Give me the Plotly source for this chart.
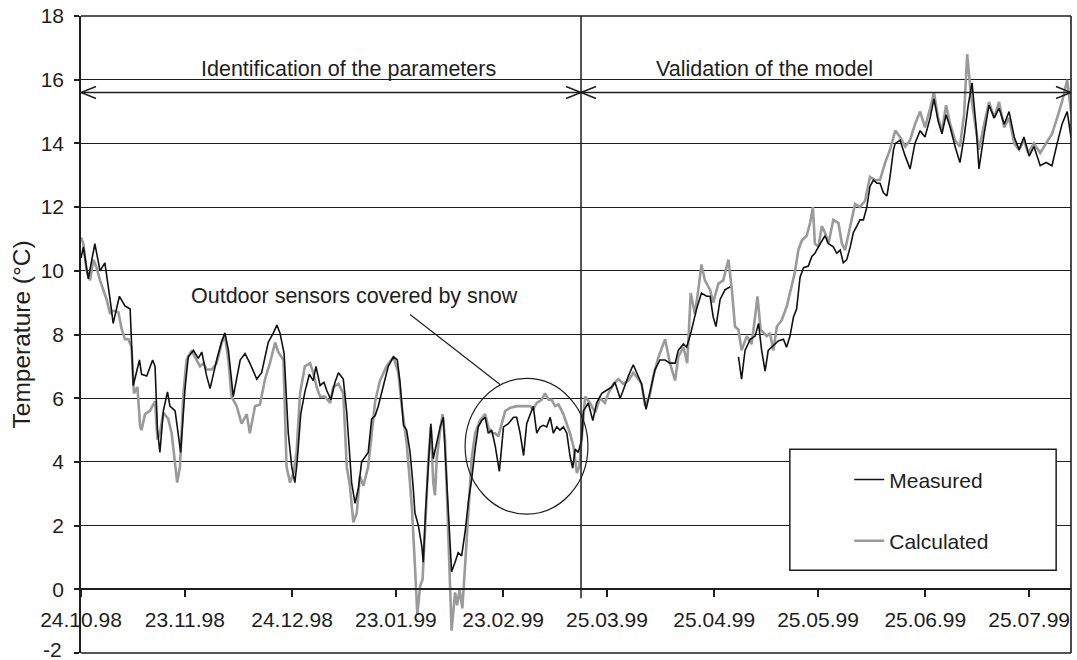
import datetime as dt
import plotly.graph_objects as go

START = dt.datetime(1998, 10, 24)

# ---- data (day offset from 24.10.98, temperature in °C) ----
meas_day = [0, 0.7, 2.1, 4.0, 5.5, 6.9, 8.4, 9.3, 11.1, 12.7, 14.2, 15.1, 16.9, 17.5, 19.0, 20.7, 21.4, 22.1,
            22.8, 23.8, 25.0, 25.7, 27.2, 28.1, 28.8, 30.1, 31.0, 32.5, 33.9, 34.9, 36.3, 37.3, 39.2, 40.7,
            41.6, 42.6, 44.0, 46.0, 47.4, 48.8, 50.8, 52.2, 54.1, 55.6, 56.6, 57.5, 58.7, 59.9, 60.9, 61.8,
            62.5, 63.5, 64.7, 66.0, 67.1, 67.9, 69.1, 70.2, 71.0, 72.2, 73.4, 74.4, 75.8, 76.8, 77.6, 78.2,
            79.2, 80.2, 81.1, 83.0, 84.0, 85.0, 85.9, 87.4, 88.8, 90.3, 91.4, 92.2, 93.2, 94.1, 95.1, 96.0,
            96.5, 97.0, 97.5, 98.5, 98.9, 99.6, 100.4, 101.1, 101.8, 102.8, 103.8, 104.7, 105.7, 106.7,
            107.1, 108.1, 109.0, 110.0, 111.0, 112.0, 112.9, 113.9, 114.8, 115.8, 116.8, 117.7, 118.7,
            119.7, 120.9, 122.1, 123.5, 125.0, 125.9, 126.9, 127.9, 128.8, 129.8, 130.7, 131.7, 132.7,
            133.6, 134.6, 135.6, 136.5, 137.5, 138.4, 139.4, 140.4, 141.3, 142.1, 142.8, 143.7, 144.7,
            145.2, 146.6, 147.9, 149.0, 150.5, 151.9, 153.4, 154.3, 155.8, 156.7, 158.2, 159.6, 161.1,
            162.0, 163.3, 164.5, 165.9, 167.3, 168.8, 170.2, 171.7, 172.6, 174.1, 175.0, 176.0, 176.9,
            177.9, 179.3, 180.8, 181.8, 182.7, 183.5, 184.7, 186.1, 187.6, 188.8, 190.0, 190.9, 191.9,
            193.4, 194.8, 195.8, 196.7, 197.7, 198.6, 199.6, 200.6, 201.5, 203.0, 203.9, 204.9, 205.9,
            206.8, 207.8, 208.8, 210.2, 211.2, 212.1, 213.1, 214.1, 215.0, 216.0, 217.4, 218.4, 219.4,
            220.3, 221.3, 222.3, 223.2, 224.2, 225.1, 226.1, 227.1, 228.0, 229.0, 230.0, 230.9, 231.9,
            232.9, 233.8, 234.8, 235.3, 236.7, 238.2, 239.6, 241.0, 242.5, 243.9, 245.4, 246.5, 247.7,
            248.8, 250.0, 251.2, 252.6, 254.0, 255.2, 256.4, 257.5, 258.7, 259.5, 261.0, 262.4, 263.9,
            265.3, 266.8, 268.2, 269.7, 271.1, 272.5, 274.0, 275.4, 277.2, 278.9, 280.6, 282.1, 283.5,
            285.0, 286.1]
measured = [10.4, 10.75, 9.75, 10.85, 10.0, 10.25, 9.1, 8.35, 9.2, 8.9, 8.8, 6.4, 7.2, 6.75, 6.7, 7.2, 7.0, 5.0,
            4.3, 5.6, 6.2, 5.75, 5.6, 4.9, 4.3, 6.35, 7.3, 7.5, 7.25, 7.45, 6.7, 6.3, 7.2, 7.8,
            8.05, 7.5, 6.05, 7.2, 7.4, 7.1, 6.6, 6.8, 7.75, 8.05, 8.3, 8.05, 7.4, 4.9, 3.85, 3.35,
            4.05, 5.5, 6.2, 6.75, 6.55, 7.0, 6.4, 6.5, 6.25, 5.95, 6.5, 6.8, 6.6, 5.55, 4.3, 3.35,
            2.7, 3.2, 4.0, 4.3, 5.35, 5.45, 5.75, 6.35, 7.0, 7.3, 7.2, 6.5, 5.15, 5.0, 4.3, 3.2,
            2.4, 2.2, 2.0, 1.35, 0.85, 2.5, 4.1, 5.2, 4.1, 4.6, 5.1, 5.4, 3.25, 1.35,
            0.55, 0.85, 1.15, 1.05, 1.8, 2.8, 3.45, 4.4, 5.1, 5.3, 5.4, 4.9, 5.0,
            4.5, 3.7, 5.1, 5.2, 5.4, 5.4, 4.9, 4.2, 5.2, 5.5, 5.75, 4.9, 5.1,
            5.15, 5.1, 5.4, 4.9, 5.1, 5.0, 5.1, 4.9, 4.2, 3.8, 4.4, 4.3, 4.7,
            5.6, 5.85, 5.3, 5.85, 6.15, 6.25, 6.35, 6.5, 6.0, 6.25, 6.7, 7.05, 6.7,
            6.45, 5.65, 6.25, 6.9, 7.2, 7.2, 7.1, 7.1, 7.5, 7.7, 7.6, 7.95, 8.35,
            8.8, 9.3, 9.2, 9.2, 8.55, 8.25, 9.1, 9.4, 9.5, None, 7.3, 6.6, 7.5,
            7.85, 7.95, 8.35, 7.5, 6.85, 7.5, 7.6, 7.7, 7.8, 7.85, 7.6, 7.95, 8.55,
            8.8, 9.8, 10.1, 10.15, 10.45, 10.55, 10.75, 10.95, 11.1, 10.85, 10.75, 10.55, 10.65,
            10.25, 10.35, 10.75, 11.2, 11.4, 11.6, 11.6, 12.0, 12.65, 12.85, 12.75, 12.75, 12.45,
            12.35, 12.95, 13.8, 14.0, 14.1, 13.6, 13.2, 14.0, 14.4, 14.2, 14.8, 15.4, 14.7,
            14.3, 14.9, 14.5, 13.9, 13.4, 14.2, 15.2, 15.9, 14.5, 13.2, 14.3, 15.2, 14.8,
            15.1, 14.6, 15.0, 14.2, 13.8, 14.2, 13.6, 13.9, 13.3, 13.4, 13.3, 14.0, 14.6,
            15.0, 14.2]

calc_day = [0, 0.7, 1.6, 2.6, 3.6, 4.5, 5.5, 6.5, 7.4, 8.4, 9.3, 10.8, 11.8, 12.7, 13.7, 14.6, 15.3, 16.3,
            17.1, 17.5, 18.5, 19.9, 21.4, 22.1, 22.8, 23.8, 25.2, 26.2, 27.2, 27.8, 28.6, 29.6, 30.5, 32.0,
            32.9, 34.4, 35.4, 36.3, 37.8, 39.2, 40.7, 41.6, 42.6, 43.5, 45.0, 46.4, 47.9, 48.8, 50.3, 51.7,
            53.2, 54.6, 56.1, 57.0, 58.5, 59.4, 60.4, 61.4, 62.3, 63.3, 64.7, 66.2, 67.1, 68.1, 69.1, 70.5,
            72.0, 72.9, 74.4, 75.8, 76.8, 77.7, 78.7, 79.7, 80.6, 81.6, 83.0, 85.0, 86.4, 88.3, 90.3, 91.7,
            92.7, 94.1, 95.1, 95.6, 96.5, 97.2, 98.0, 98.7, 99.4, 100.4, 101.1, 101.8, 102.3, 102.8, 103.8,
            104.5, 105.2, 106.2, 107.1, 108.1, 108.7, 109.4, 110.2, 111.0, 112.0, 112.9, 113.9, 115.3,
            116.8, 117.7, 118.7, 119.7, 120.6, 121.6, 122.6, 124.1, 126.0, 127.9, 129.8, 130.7, 131.7,
            133.1, 134.1, 135.1, 136.0, 137.0, 138.0, 139.4, 140.4, 141.3, 142.3, 143.3, 144.0, 144.7,
            145.7, 147.1, 148.6, 150.0, 151.4, 152.4, 153.9, 155.3, 156.7, 158.2, 159.6, 161.1, 162.0,
            163.0, 164.3, 165.4, 166.9, 168.8, 170.2, 171.7, 172.6, 174.1, 175.2, 176.2, 177.4, 178.4,
            179.3, 180.3, 181.8, 182.7, 184.2, 185.6, 187.1, 188.1, 189.0, 190.0, 190.9, 192.4, 193.8,
            194.8, 195.5, 196.4, 198.2, 199.1, 200.1, 201.1, 202.5, 204.0, 205.4, 206.3, 207.3, 208.3,
            209.7, 210.7, 211.5, 212.1, 213.1, 214.1, 215.0, 216.0, 217.4, 218.9, 219.9, 220.8, 222.3,
            223.7, 225.1, 226.6, 228.0, 229.5, 230.9, 232.4, 233.8, 235.3, 236.7, 238.2, 239.6, 241.0,
            242.5, 243.9, 245.4, 246.5, 247.7, 248.8, 250.0, 251.2, 252.6, 254.0, 255.2, 256.1, 257.2,
            258.4, 259.5, 261.0, 262.4, 263.9, 265.3, 266.8, 268.2, 269.7, 271.1, 272.5, 273.7, 275.4,
            277.2, 278.9, 280.6, 282.1, 283.5, 285.0, 286.1]
calculated = [11.05, 10.85, 10.0, 9.7, 10.35, 10.1, 9.7, 9.4, 9.1, 8.65, 8.75, 8.7, 8.15, 7.85, 7.85, 7.6, 6.15, 6.35,
              5.1, 5.0, 5.5, 5.6, 5.9, 4.7, 4.9, 5.55, 5.35, 4.9, 3.85, 3.35, 3.85, 6.15, 7.2, 7.5,
              7.3, 7.0, 7.1, 6.9, 6.9, 7.1, 7.75, 7.95, 7.2, 6.05, 5.75, 5.2, 5.5, 4.9, 5.75, 5.8,
              6.6, 7.1, 7.75, 7.45, 7.2, 3.85, 3.35, 3.65, 4.3, 6.15, 7.0, 7.1, 6.8, 6.35, 6.05, 6.05,
              5.85, 6.35, 6.45, 6.15, 3.85, 3.25, 2.1, 2.4, 3.55, 3.25, 3.85, 5.9, 6.55, 7.0, 7.3, 6.8,
              5.75, 4.6, 3.3, 2.6, 0.75, -0.8, 0.1, 0.3, 1.8, 4.1, 5.1, 3.35, 2.95, 4.1, 5.0,
              5.5, 4.7, 1.8, -1.3, -0.1, -0.5, 0.0, -0.6, 0.75, 2.6, 4.1, 4.9, 5.3,
              5.5, 5.1, 4.9, 4.9, 4.8, 5.2, 5.6, 5.7, 5.75, 5.75, 5.75, 5.65, 5.85,
              5.95, 6.15, 5.95, 5.95, 5.75, 5.8, 5.5, 5.2, 4.9, 4.5, 3.65, 3.85, 4.7,
              6.05, 5.85, 5.55, 6.0, 5.85, 6.15, 6.45, 6.6, 6.45, 6.55, 6.8, 6.6, 6.45,
              5.75, 6.05, 6.7, 7.3, 7.85, 7.1, 6.55, 7.3, 7.6, 7.1, 9.3, 8.65, 9.4,
              10.2, 9.7, 9.4, 9.0, 9.6, 9.7, 10.35, 9.4, 8.25, 8.15, 7.5, 7.95, 7.7,
              8.55, 9.2, 8.15, 7.95, 8.05, 7.5, 8.25, 8.45, 8.9, 9.6, 9.95, 10.65, 10.95,
              11.1, 11.5, 12.0, 10.85, 10.75, 11.4, 11.2, 10.85, 11.6, 11.5, 10.85, 10.65, 11.4,
              12.1, 12.0, 12.2, 12.95, 12.85, 12.85, 13.4, 13.8, 14.4, 14.2, 13.9, 14.1, 14.6,
              15.0, 14.5, 15.1, 15.6, 14.8, 14.4, 15.2, 14.6, 14.1, 13.9, 14.9, 16.8, 15.5,
              14.6, 13.8, 14.6, 15.3, 14.8, 15.3, 14.5, 14.8, 14.0, 13.8, 14.1, 13.7, 14.0,
              13.7, 14.0, 14.3, 14.8, 15.3, 16.0, 15.0]

tick_days = [0, 30, 61, 91, 122, 152, 183, 213, 244, 274]
tick_labels = ["24.10.98", "23.11.98", "24.12.98", "23.01.99", "23.02.99",
               "25.03.99", "25.04.99", "25.05.99", "25.06.99", "25.07.99"]
y_ticks = [-2, 0, 2, 4, 6, 8, 10, 12, 14, 16, 18]
Y_MIN = y_ticks[0]

X_END_DAY = 286.1
SPLIT_DAY = 144.5
ARROW_Y = 15.6


def D(d):
    return START + dt.timedelta(days=d)


FONT = "Liberation Sans, Arial, sans-serif"
INK = "#1e1e1e"

fig = go.Figure()
fig.add_trace(go.Scatter(x=[D(d) for d in calc_day], y=calculated, mode="lines", name="Calculated",
                         line=dict(color="#9a9a9a", width=2.6), legendgroup="c", legendrank=2))
fig.add_trace(go.Scatter(x=[D(d) for d in meas_day], y=measured, mode="lines", name="Measured",
                         line=dict(color="#111111", width=1.6), connectgaps=False,
                         legendgroup="m", legendrank=1))

shapes = []
# legend box
shapes.append(dict(type="rect", xref="paper", yref="paper", x0=0.716, x1=0.985, y0=0.130, y1=0.320,
                   fillcolor="white", line=dict(color=INK, width=1.5), layer="above"))
# frame edges (left edge = y axis line)
shapes.append(dict(type="line", xref="paper", yref="paper", x0=1, x1=1, y0=0, y1=1,
                   line=dict(color=INK, width=1.6), layer="above"))
shapes.append(dict(type="line", xref="paper", yref="paper", x0=0, x1=1, y0=0, y1=0,
                   line=dict(color=INK, width=1.6), layer="above"))
shapes.append(dict(type="line", xref="paper", yref="paper", x0=0, x1=1, y0=1, y1=1,
                   line=dict(color=INK, width=1.6), layer="above"))
# divider
shapes.append(dict(type="line", xref="x", yref="y", x0=D(SPLIT_DAY), x1=D(SPLIT_DAY), y0=-0.28, y1=18,
                   line=dict(color=INK, width=1.5), layer="above"))
# arrow shaft
shapes.append(dict(type="line", xref="x", yref="y", x0=D(0), x1=D(X_END_DAY), y0=ARROW_Y, y1=ARROW_Y,
                   line=dict(color=INK, width=1.5), layer="above"))
# arrow heads
for d, direction in [(0, 1), (SPLIT_DAY, -1), (SPLIT_DAY, 1), (X_END_DAY, -1)]:
    s = 15 * direction
    shapes.append(dict(type="path", xref="x", yref="y", xsizemode="pixel", ysizemode="pixel",
                       xanchor=D(d), yanchor=ARROW_Y,
                       path=f"M {s},6 L 0,0 L {s},-6",
                       line=dict(color=INK, width=1.5), layer="above"))
# snow circle
shapes.append(dict(type="circle", xref="x", yref="y", x0=D(111.0), x1=D(146.5), y0=2.36, y1=6.62,
                   line=dict(color=INK, width=1.2), layer="above"))
# leader line
shapes.append(dict(type="line", xref="x", yref="y", x0=D(95.1), y0=8.63, x1=D(121.1), y1=6.43,
                   line=dict(color=INK, width=1.2), layer="above"))

TXT = dict(size=21.5, color=INK, family=FONT)
annotations = [
    dict(text="Identification of the parameters", xref="x", yref="y", x=D(34.0), y=16.35,
         xanchor="left", yanchor="middle", showarrow=False, font=TXT),
    dict(text="Validation of the model", xref="x", yref="y", x=D(165.5), y=16.35,
         xanchor="left", yanchor="middle", showarrow=False, font=TXT),
    dict(text="Outdoor sensors covered by snow", xref="x", yref="y", x=D(31.3), y=9.2,
         xanchor="left", yanchor="middle", showarrow=False, font=TXT),
    dict(text="Temperature (°C)", xref="paper", yref="paper", x=-0.0596, y=0.5, textangle=-90,
         xanchor="center", yanchor="middle", showarrow=False, font=dict(size=24.5, color=INK, family=FONT)),
    # lowest y label, lifted slightly so it is not clipped by the page edge
    dict(text=str(Y_MIN), xref="paper", yref="y", x=-0.0172, y=Y_MIN, yshift=4,
         xanchor="right", yanchor="middle", showarrow=False, font=dict(size=21, color=INK, family=FONT)),
]

fig.update_layout(
    width=1077, height=660,
    margin=dict(l=81, r=6, t=16, b=7, autoexpand=False),
    paper_bgcolor="white", plot_bgcolor="white",
    font=dict(family=FONT, size=21, color=INK),
    shapes=shapes, annotations=annotations,
    showlegend=True,
    legend=dict(x=0.776, y=0.304, xanchor="left", yanchor="top", bgcolor="rgba(0,0,0,0)",
                borderwidth=0, font=dict(size=21, color=INK, family=FONT),
                traceorder="grouped", tracegroupgap=31),
    xaxis=dict(type="date", range=[D(0), D(X_END_DAY)], automargin=False,
               tickvals=[D(d) for d in tick_days], ticktext=tick_labels,
               ticks="outside", ticklen=7, tickwidth=1.5, tickcolor=INK, ticklabelstandoff=5,
               showline=True, linecolor=INK, linewidth=1.5,
               anchor="free", position=0.1, showgrid=False, zeroline=False,
               tickfont=dict(size=21, color=INK, family=FONT)),
    yaxis=dict(range=[Y_MIN, 18], tickvals=y_ticks,
               ticktext=["" if v == Y_MIN else str(v) for v in y_ticks], automargin=False,
               showgrid=True, gridcolor=INK, gridwidth=1.3, zeroline=False,
               showline=True, linecolor=INK, linewidth=1.5,
               ticks="outside", ticklen=5, tickwidth=1.5, tickcolor=INK, ticklabelstandoff=6,
               tickfont=dict(size=21, color=INK, family=FONT)),
)

fig.write_html("out.html", config={"displayModeBar": False},
               post_script="document.body.style.margin='0px';document.body.style.overflow='hidden';"
                           "document.documentElement.style.overflow='hidden';")
